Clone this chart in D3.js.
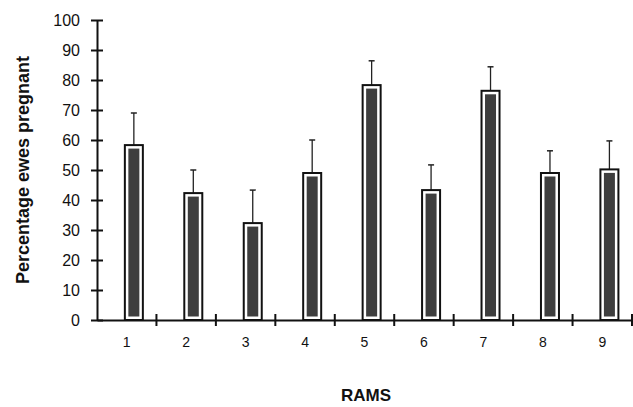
<!DOCTYPE html>
<html>
<head>
<meta charset="utf-8">
<script src="https://d3js.org/d3.v7.min.js"></script>
<style>
  body { margin: 0; background: #fff; }
  text { font-family: "Liberation Sans", Arial, sans-serif; }
</style>
</head>
<body>
<script>
// data
var rams = ["1", "2", "3", "4", "5", "6", "7", "8", "9"];
var pregnant = [58.3, 42.3, 32.3, 49, 78.3, 43.3, 76.4, 49, 50.2];
var errTop = [69, 50, 43.3, 60, 86.4, 51.7, 84.4, 56.4, 59.7];
var yTicks = [0, 10, 20, 30, 40, 50, 60, 70, 80, 90, 100];

var W = 633, H = 407;
var mLeft = 97, mRight = 632, mTop = 20, mBottom = 320;

var svg = d3.select("body").append("svg")
    .attr("width", W).attr("height", H);

var x = d3.scaleBand().domain(rams).range([mLeft, mRight]);
var y = d3.scaleLinear().domain([0, 100]).range([mBottom, mTop]);

var barW = 18;
function barX(d) { return x(d) + x.bandwidth() * 0.62 - barW / 2; }

// error bars (upper only)
svg.selectAll(".err").data(rams).enter().append("g")
    .each(function(d, i) {
        var g = d3.select(this);
        var cx = barX(d) + barW / 2;
        g.append("line").attr("x1", cx).attr("x2", cx)
            .attr("y1", y(pregnant[i])).attr("y2", y(errTop[i]))
            .attr("stroke", "#222").attr("stroke-width", 1.3);
        g.append("line").attr("x1", cx - 3).attr("x2", cx + 3)
            .attr("y1", y(errTop[i])).attr("y2", y(errTop[i]))
            .attr("stroke", "#222").attr("stroke-width", 1.5);
    });

// bars: dark outline, white rim, grey core
svg.selectAll(".bar").data(rams).enter().append("rect")
    .attr("class", "bar")
    .attr("x", d => barX(d))
    .attr("y", (d, i) => y(pregnant[i]))
    .attr("width", barW)
    .attr("height", (d, i) => y(0) - y(pregnant[i]))
    .attr("fill", "#fff")
    .attr("stroke", "#111")
    .attr("stroke-width", 2);

svg.selectAll(".core").data(rams).enter().append("rect")
    .attr("class", "core")
    .attr("x", d => barX(d) + 3.5)
    .attr("y", (d, i) => y(pregnant[i]) + 3.5)
    .attr("width", barW - 7)
    .attr("height", (d, i) => Math.max(0, y(0) - y(pregnant[i]) - 7))
    .attr("fill", "#3e3e3e");

// y axis
var yAxis = d3.axisLeft(y).tickValues(yTicks).tickSize(0).tickPadding(17);
var gy = svg.append("g").attr("transform", "translate(" + mLeft + ",0)").call(yAxis);
gy.select(".domain").attr("stroke", "#111").attr("stroke-width", 2);
gy.selectAll(".tick").append("line")
    .attr("x1", -6).attr("x2", 6).attr("stroke", "#111").attr("stroke-width", 2);
gy.selectAll("text").attr("font-size", 16).attr("fill", "#111");

// x axis
var xAxis = d3.axisBottom(x).tickSize(0).tickPadding(17);
var gx = svg.append("g").attr("transform", "translate(0," + mBottom + ")").call(xAxis);
gx.select(".domain").attr("stroke", "#111").attr("stroke-width", 2);
gx.selectAll("text").attr("font-size", 14).attr("fill", "#111");
gx.selectAll(".sep").data(rams).enter().append("line")
    .attr("x1", d => x(d) + x.bandwidth()).attr("x2", d => x(d) + x.bandwidth())
    .attr("y1", -6).attr("y2", 6)
    .attr("stroke", "#111").attr("stroke-width", 2);

// axis titles
svg.append("text")
    .attr("transform", "translate(29,170) rotate(-90)")
    .attr("text-anchor", "middle")
    .attr("font-size", 18).attr("font-weight", "bold").attr("fill", "#111")
    .text("Percentage ewes pregnant");

svg.append("text")
    .attr("x", 366).attr("y", 401)
    .attr("text-anchor", "middle")
    .attr("font-size", 17).attr("font-weight", "bold").attr("fill", "#111")
    .text("RAMS");
</script>
</body>
</html>
